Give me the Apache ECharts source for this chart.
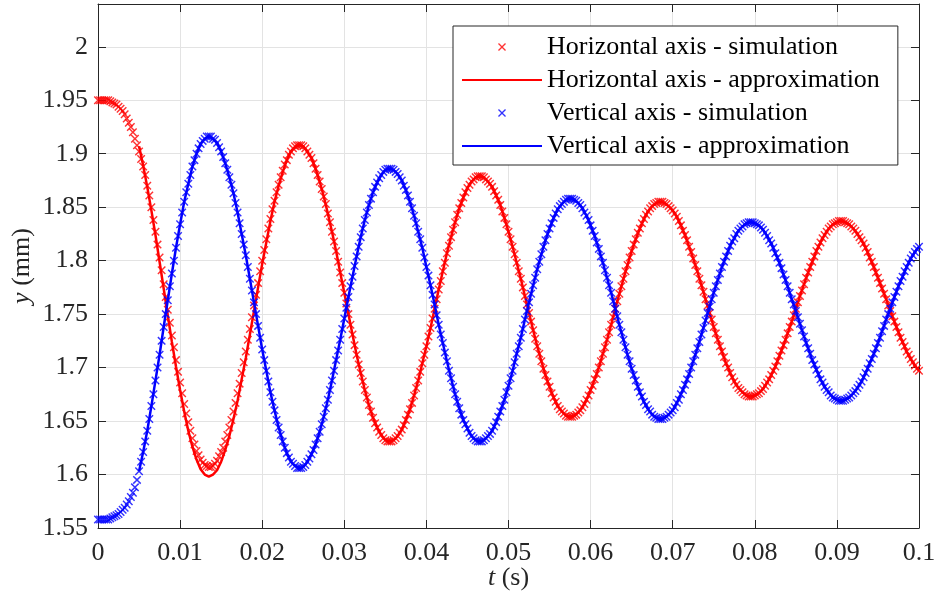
<!DOCTYPE html>
<html>
<head>
<meta charset="utf-8">
<script src="https://cdn.jsdelivr.net/npm/echarts@6/dist/echarts.min.js"></script>
<style>html,body{margin:0;padding:0;background:#fff}#c{width:937px;height:607px}</style>
</head>
<body>
<div id="c"></div>
<script>
// simulation sampled every 0.25 ms from t = 0; approximation every 0.5 ms from t = 5 ms
const simStep = 0.00025;
const approxStep = 0.0005;
const approxStart = 0.005;

const seriesNames = [
  'Horizontal axis - simulation',
  'Horizontal axis - approximation',
  'Vertical axis - simulation',
  'Vertical axis - approximation'
];

const hSim = [
1.950,1.950,1.950,1.950,1.950,1.950,1.949,1.948,1.947,1.946,1.944,1.942,1.940,1.937,1.933,1.929,1.925,1.920,1.914,1.908,1.902,1.895,1.888,1.880,1.870,1.861,1.850,1.838,1.827,1.815,1.803,1.791,1.778,1.766,1.754,1.742,1.730,1.719,1.707,1.696,1.686,1.676,1.666,1.657,1.649,1.641,1.634,1.628,1.622,1.618,1.614,1.611,1.609,1.608,1.607,
1.607,1.608,1.610,1.613,1.617,1.621,1.625,1.631,1.637,1.644,1.651,1.659,1.667,1.676,1.685,1.695,1.705,1.715,1.726,1.736,1.747,1.758,1.768,1.779,1.790,1.800,1.810,1.820,1.830,1.839,1.848,1.856,1.864,1.871,1.878,1.884,1.890,1.894,1.899,1.902,1.905,1.907,1.908,1.908,
1.908,1.907,1.905,1.902,1.899,1.896,1.891,1.886,1.880,1.874,1.867,1.860,1.853,1.844,1.836,1.827,1.818,1.809,1.799,1.789,1.779,1.770,1.760,1.750,1.740,1.731,1.721,1.712,1.703,1.695,1.687,1.679,1.672,1.665,1.659,1.653,1.648,1.644,1.640,1.637,1.634,1.632,1.631,1.631,
1.631,1.632,1.634,1.636,1.639,1.642,1.646,1.651,1.656,1.661,1.667,1.674,1.681,1.688,1.696,1.704,1.712,1.720,1.729,1.737,1.746,1.755,1.764,1.773,1.781,1.790,1.798,1.807,1.814,1.822,1.829,1.836,1.843,1.849,1.854,1.859,1.864,1.868,1.871,1.874,1.876,1.878,1.879,1.879,
1.879,1.878,1.876,1.874,1.872,1.869,1.865,1.861,1.857,1.852,1.846,1.840,1.834,1.827,1.820,1.813,1.806,1.798,1.790,1.783,1.775,1.767,1.759,1.751,1.743,1.735,1.727,1.720,1.713,1.706,1.699,1.693,1.687,1.682,1.676,1.672,1.668,1.664,1.661,1.659,1.657,1.655,1.654,1.654,
1.654,1.655,1.656,1.658,1.660,1.663,1.666,1.670,1.674,1.679,1.683,1.689,1.694,1.700,1.706,1.713,1.719,1.726,1.733,1.740,1.747,1.755,1.762,1.769,1.776,1.783,1.790,1.796,1.803,1.809,1.815,1.820,1.826,1.830,1.835,1.839,1.843,1.846,1.849,1.851,1.853,1.854,1.855,1.855,
1.855,1.854,1.853,1.851,1.849,1.847,1.844,1.841,1.837,1.833,1.828,1.824,1.819,1.813,1.808,1.802,1.796,1.790,1.783,1.777,1.771,1.764,1.758,1.751,1.745,1.738,1.732,1.726,1.720,1.715,1.710,1.704,1.700,1.695,1.691,1.687,1.684,1.681,1.679,1.677,1.675,1.674,1.673,1.673,
1.673,1.674,1.675,1.676,1.678,1.680,1.683,1.686,1.689,1.693,1.697,1.701,1.706,1.711,1.716,1.721,1.726,1.732,1.738,1.743,1.749,1.755,1.761,1.767,1.772,1.778,1.784,1.789,1.794,1.799,1.804,1.809,1.813,1.817,1.821,1.824,1.827,1.830,1.832,1.834,1.835,1.836,1.837,1.837,
1.837,1.836,1.835,1.834,1.832,1.830,1.828,1.825,1.822,1.819,1.816,1.812,1.808,1.803,1.799,1.794,1.789,1.784,1.779,1.774,1.769,1.764,1.758,1.753,1.748,1.743,1.738,1.733,1.728,1.724,1.720,1.715,1.712,1.708,1.705,1.702,1.699,1.697
];

const hApprox = [
1.907,1.889,1.869,1.847,1.824,1.799,1.774,1.749,1.724,1.701,1.679,1.659,1.641,1.626,1.614,1.605,1.600,1.598,
1.600,1.604,1.612,1.623,1.636,1.652,1.669,1.689,1.709,1.731,1.753,1.775,1.797,1.817,1.837,1.855,1.870,1.883,1.894,1.902,1.906,1.908,
1.907,1.902,1.896,1.886,1.874,1.860,1.844,1.827,1.809,1.789,1.770,1.750,1.731,1.712,1.695,1.679,1.665,1.653,1.644,1.637,1.632,1.631,
1.632,1.636,1.642,1.651,1.661,1.674,1.688,1.704,1.720,1.737,1.755,1.773,1.790,1.807,1.822,1.836,1.849,1.859,1.868,1.874,1.878,1.879,
1.878,1.874,1.869,1.861,1.852,1.840,1.827,1.813,1.798,1.783,1.767,1.751,1.735,1.720,1.706,1.693,1.682,1.672,1.664,1.659,1.655,1.654,
1.655,1.658,1.663,1.670,1.679,1.689,1.700,1.713,1.726,1.740,1.755,1.769,1.783,1.796,1.809,1.820,1.830,1.839,1.846,1.851,1.854,1.855,
1.854,1.851,1.847,1.841,1.833,1.824,1.813,1.802,1.790,1.777,1.764,1.751,1.738,1.726,1.715,1.704,1.695,1.687,1.681,1.677,1.674,1.673,
1.674,1.676,1.680,1.686,1.693,1.701,1.711,1.721,1.732,1.743,1.755,1.767,1.778,1.789,1.799,1.809,1.817,1.824,1.830,1.834,1.836,1.837,
1.836,1.834,1.830,1.825,1.819,1.812,1.803,1.794,1.784,1.774,1.764,1.753,1.743,1.733,1.724,1.715,1.708,1.702,1.697
];

const vSim = [
1.558,1.558,1.558,1.558,1.558,1.558,1.559,1.560,1.561,1.562,1.563,1.565,1.567,1.569,1.572,1.575,1.579,1.583,1.588,1.595,1.603,1.612,1.621,1.631,1.641,1.652,1.664,1.675,1.688,1.700,1.712,1.725,1.738,1.750,1.763,1.776,1.788,1.800,1.812,1.823,1.834,1.845,1.855,1.864,1.872,1.880,1.888,1.894,1.900,1.905,1.909,1.912,1.914,1.916,1.916,
1.916,1.914,1.913,1.910,1.906,1.902,1.897,1.891,1.885,1.878,1.871,1.863,1.854,1.845,1.835,1.825,1.815,1.805,1.794,1.783,1.772,1.761,1.750,1.739,1.728,1.717,1.707,1.697,1.687,1.677,1.668,1.660,1.651,1.644,1.637,1.631,1.625,1.620,1.616,1.612,1.610,1.608,1.606,1.606,
1.606,1.607,1.609,1.612,1.615,1.619,1.623,1.628,1.634,1.640,1.647,1.654,1.662,1.670,1.679,1.688,1.697,1.707,1.716,1.726,1.736,1.746,1.756,1.766,1.776,1.785,1.795,1.804,1.813,1.822,1.830,1.838,1.845,1.852,1.858,1.864,1.869,1.873,1.877,1.880,1.883,1.885,1.886,1.886,
1.886,1.885,1.883,1.881,1.878,1.875,1.870,1.866,1.861,1.855,1.849,1.842,1.835,1.827,1.820,1.812,1.803,1.794,1.786,1.777,1.768,1.759,1.749,1.740,1.731,1.723,1.714,1.706,1.697,1.690,1.682,1.675,1.668,1.662,1.656,1.651,1.647,1.643,1.639,1.636,1.634,1.632,1.631,1.631,
1.631,1.632,1.634,1.636,1.638,1.641,1.645,1.649,1.654,1.659,1.664,1.670,1.677,1.683,1.690,1.697,1.705,1.713,1.720,1.728,1.736,1.745,1.753,1.761,1.769,1.777,1.784,1.792,1.799,1.806,1.813,1.819,1.825,1.830,1.835,1.840,1.844,1.848,1.851,1.853,1.855,1.857,1.858,1.858,
1.858,1.857,1.856,1.854,1.852,1.849,1.845,1.842,1.838,1.833,1.828,1.823,1.817,1.811,1.804,1.798,1.791,1.784,1.777,1.770,1.762,1.755,1.748,1.740,1.733,1.726,1.719,1.712,1.706,1.699,1.693,1.688,1.682,1.677,1.673,1.668,1.665,1.661,1.659,1.656,1.654,1.653,1.652,1.652,
1.652,1.653,1.654,1.656,1.658,1.660,1.663,1.667,1.670,1.675,1.679,1.684,1.689,1.694,1.700,1.706,1.712,1.718,1.724,1.731,1.737,1.744,1.751,1.757,1.764,1.770,1.776,1.782,1.788,1.794,1.799,1.804,1.809,1.814,1.818,1.821,1.825,1.828,1.830,1.832,1.834,1.835,1.836,1.836,
1.836,1.835,1.834,1.833,1.831,1.829,1.826,1.823,1.819,1.816,1.812,1.807,1.803,1.798,1.793,1.787,1.782,1.776,1.770,1.764,1.759,1.753,1.747,1.741,1.735,1.729,1.723,1.718,1.713,1.707,1.703,1.698,1.694,1.689,1.686,1.682,1.679,1.677,1.674,1.672,1.671,1.670,1.669,1.669,
1.669,1.670,1.671,1.672,1.674,1.676,1.678,1.681,1.684,1.687,1.691,1.695,1.699,1.704,1.708,1.713,1.718,1.723,1.728,1.734,1.739,1.745,1.750,1.755,1.761,1.766,1.771,1.776,1.781,1.785,1.790,1.794,1.798,1.802,1.805,1.808,1.811,1.813
];

const vApprox = [
1.603,1.621,1.641,1.664,1.688,1.712,1.738,1.763,1.788,1.812,1.834,1.855,1.872,1.888,1.900,1.909,1.914,1.916,
1.914,1.910,1.902,1.891,1.878,1.863,1.845,1.825,1.805,1.783,1.761,1.739,1.717,1.697,1.677,1.660,1.644,1.631,1.620,1.612,1.608,1.606,
1.607,1.612,1.619,1.628,1.640,1.654,1.670,1.688,1.707,1.726,1.746,1.766,1.785,1.804,1.822,1.838,1.852,1.864,1.873,1.880,1.885,1.886,
1.885,1.881,1.875,1.866,1.855,1.842,1.827,1.812,1.794,1.777,1.759,1.740,1.723,1.706,1.690,1.675,1.662,1.651,1.643,1.636,1.632,1.631,
1.632,1.636,1.641,1.649,1.659,1.670,1.683,1.697,1.713,1.728,1.745,1.761,1.777,1.792,1.806,1.819,1.830,1.840,1.848,1.853,1.857,1.858,
1.857,1.854,1.849,1.842,1.833,1.823,1.811,1.798,1.784,1.770,1.755,1.740,1.726,1.712,1.699,1.688,1.677,1.668,1.661,1.656,1.653,1.652,
1.653,1.656,1.660,1.667,1.675,1.684,1.694,1.706,1.718,1.731,1.744,1.757,1.770,1.782,1.794,1.804,1.814,1.821,1.828,1.832,1.835,1.836,
1.835,1.833,1.829,1.823,1.816,1.807,1.798,1.787,1.776,1.764,1.753,1.741,1.729,1.718,1.707,1.698,1.689,1.682,1.677,1.672,1.670,1.669,
1.670,1.672,1.676,1.681,1.687,1.695,1.704,1.713,1.723,1.734,1.745,1.755,1.766,1.776,1.785,1.794,1.802,1.808,1.813
];

const xMin = 0, xMax = 0.1, xStep = 0.01;
const yMin = 1.55, yMax = 2.04, yStep = 0.05;

const RED = '#ff0000', BLUE = '#0000ff', AX = '#262626', GRIDC = '#e3e3e3';
const FONT = 'Liberation Serif';
const crossPath = 'path://M1.2,0L5,3.8L8.8,0L10,1.2L6.2,5L10,8.8L8.8,10L5,6.2L1.2,10L0,8.8L3.8,5L0,1.2Z';

const toPairs = (arr, t0, dt) => arr.map((y, i) => [t0 + i * dt, y]);

const labelStyle = { fontFamily: FONT, fontSize: 26, color: AX };
const axLine = { show: true, onZero: false, lineStyle: { color: AX, width: 1 } };
const axTick = { show: true, inside: true, length: 8, lineStyle: { color: AX, width: 1 } };
const nameStyle = { fontFamily: FONT, fontSize: 26, color: AX,
  rich: { i: { fontFamily: FONT, fontSize: 26, fontStyle: 'italic', color: AX } } };

const chart = echarts.init(document.getElementById('c'), null, { renderer: 'canvas' });
chart.setOption({
  animation: false,
  backgroundColor: '#fff',
  grid: { left: 98, right: 18, top: 4, bottom: 79, containLabel: false, outerBoundsMode: 'none' },
  xAxis: [
    {
      type: 'value', min: xMin, max: xMax, interval: xStep, position: 'bottom',
      axisLine: axLine, axisTick: axTick,
      axisLabel: Object.assign({ margin: 12 }, labelStyle),
      splitLine: { show: true, lineStyle: { color: GRIDC, width: 1 } },
      name: '{i|t} (s)', nameLocation: 'middle', nameGap: 37, nameMoveOverlap: false,
      nameTextStyle: nameStyle
    },
    {
      type: 'value', min: xMin, max: xMax, interval: xStep, position: 'top',
      axisLine: axLine, axisTick: axTick, axisLabel: { show: false }, splitLine: { show: false }
    }
  ],
  yAxis: [
    {
      type: 'value', min: yMin, max: yMax, interval: yStep, position: 'left',
      axisLine: axLine, axisTick: axTick,
      axisLabel: Object.assign({ margin: 10, showMaxLabel: false }, labelStyle),
      splitLine: { show: true, lineStyle: { color: GRIDC, width: 1 } },
      name: '{i|y} (mm)', nameLocation: 'middle', nameGap: 63, nameMoveOverlap: false,
      nameTextStyle: nameStyle
    },
    {
      type: 'value', min: yMin, max: yMax, interval: yStep, position: 'right',
      axisLine: axLine, axisTick: axTick, axisLabel: { show: false }, splitLine: { show: false }
    }
  ],
  legend: {
    orient: 'vertical', left: 453, top: 26,
    itemWidth: 80, itemHeight: 8, itemGap: 7,
    padding: [8, 18, 6, 8],
    borderColor: AX, borderWidth: 1, borderRadius: 0, backgroundColor: '#fff',
    textStyle: { fontFamily: FONT, fontSize: 26, color: '#000', lineHeight: 26 },
    data: [
      { name: seriesNames[0] },
      { name: seriesNames[1], itemStyle: { opacity: 0 } },
      { name: seriesNames[2] },
      { name: seriesNames[3], itemStyle: { opacity: 0 } }
    ]
  },
  series: [
    {
      name: seriesNames[0], type: 'scatter', data: toPairs(hSim, 0, simStep),
      symbol: crossPath, symbolSize: 8.5, itemStyle: { color: RED }, z: 2
    },
    {
      name: seriesNames[1], type: 'line', data: toPairs(hApprox, approxStart, approxStep),
      symbol: 'none', lineStyle: { color: RED, width: 2.5 }, itemStyle: { color: RED }, z: 3
    },
    {
      name: seriesNames[2], type: 'scatter', data: toPairs(vSim, 0, simStep),
      symbol: crossPath, symbolSize: 8.5, itemStyle: { color: BLUE }, z: 4
    },
    {
      name: seriesNames[3], type: 'line', data: toPairs(vApprox, approxStart, approxStep),
      symbol: 'none', lineStyle: { color: BLUE, width: 2.5 }, itemStyle: { color: BLUE }, z: 5
    }
  ]
});
</script>
</body>
</html>
